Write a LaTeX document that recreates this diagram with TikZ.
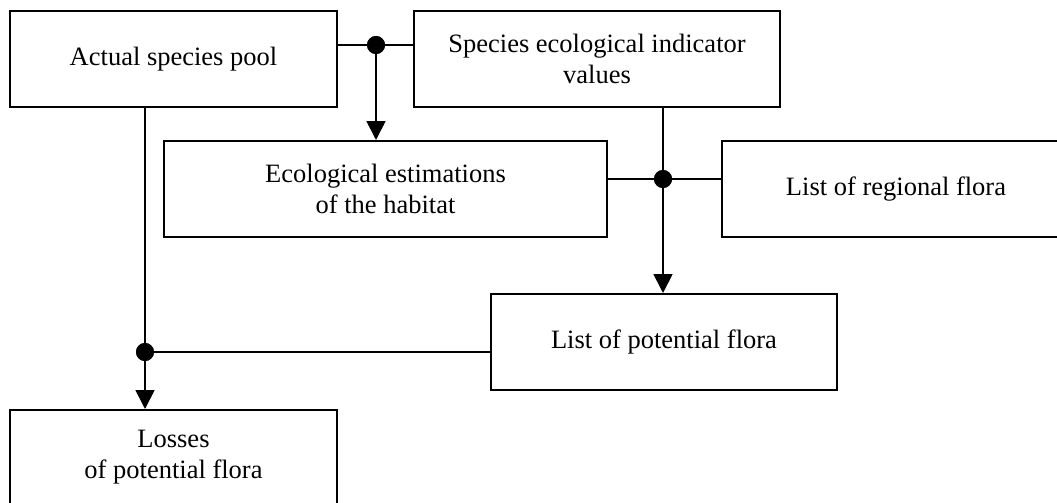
\documentclass[tikz,border=0pt]{standalone}
\usepackage{fontspec}
\setmainfont{Liberation Serif}
\usetikzlibrary{arrows.meta}

\tikzset{
  box/.style={draw, line width=2pt, rectangle, align=center, inner sep=0pt,
              font=\fontsize{26.5}{31}\selectfont},
  link/.style={line width=1.8pt},
  arr/.style={link, -{Triangle[length=19pt,width=19pt]}},
  dot/.style={circle, fill=black, minimum size=18pt, inner sep=0pt},
}

\begin{document}
\begin{tikzpicture}[x=1pt, y=-1pt]
  \useasboundingbox (0,0) rectangle (1057,503);
  \fill[white] (0,0) rectangle (1057,503);

  % boxes
  \node[box, minimum width=327pt, minimum height=96pt] (pool) at (173.5,59) {Actual species pool};
  \node[box, minimum width=366pt, minimum height=96pt] (ind)  at (597,59) {Species ecological indicator\\values};
  \node[box, minimum width=443pt, minimum height=96pt] (est)  at (385.5,189) {Ecological estimations\\of the habitat};
  \node[box, minimum width=348pt, minimum height=96pt] (reg)  at (896,189) {List of regional flora};
  \node[box, minimum width=346pt, minimum height=96pt] (pot)  at (664,342) {List of potential flora};
  \node[box, minimum width=327pt, minimum height=95pt] (loss) at (173.5,457.5) {Losses\\of potential flora};

  % junction points
  \node[dot] (j1) at (376,45) {};
  \node[dot] (j2) at (663,179) {};
  \node[dot] (j3) at (145,352) {};

  % connectors
  \draw[link] (pool.east |- j1) -- (j1.center) -- (ind.west |- j1);
  \draw[arr]  (j1.center) -- (j1 |- est.north);

  \draw[link] (est.east |- j2) -- (j2.center) -- (reg.west |- j2);
  \draw[link] (j2 |- ind.south) -- (j2.center);
  \draw[arr]  (j2.center) -- (j2 |- pot.north);

  \draw[link] (j3 |- pool.south) -- (j3.center);
  \draw[link] (j3.center) -- (pot.west |- j3);
  \draw[arr]  (j3.center) -- (j3 |- loss.north);

  % dots on top of the lines
  \node[dot] at (j1) {};
  \node[dot] at (j2) {};
  \node[dot] at (j3) {};
\end{tikzpicture}
\end{document}
